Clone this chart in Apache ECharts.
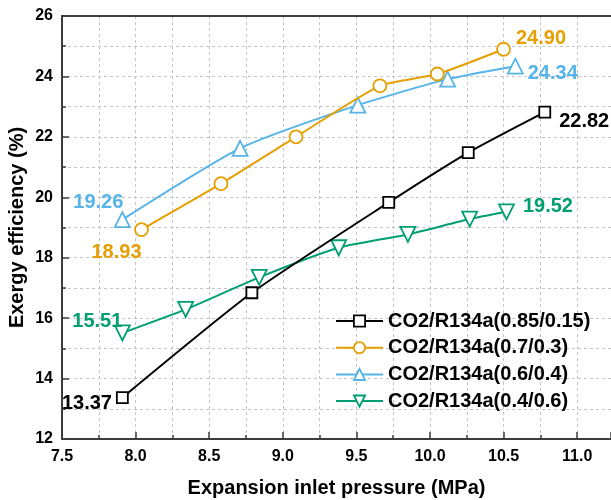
<!DOCTYPE html>
<html>
<head>
<meta charset="utf-8">
<script src="https://cdn.jsdelivr.net/npm/echarts@6/dist/echarts.min.js"></script>
<style>
html,body{margin:0;padding:0;background:#fff;}
#chart{width:611px;height:500px;}
</style>
</head>
<body>
<div id="chart"></div>
<script>
// ---- data ----
const seriesNames = ['CO2/R134a(0.85/0.15)', 'CO2/R134a(0.7/0.3)', 'CO2/R134a(0.6/0.4)', 'CO2/R134a(0.4/0.6)'];
const pressA = [7.91, 8.79, 9.72, 10.26, 10.78];
const effA   = [13.37, 16.84, 19.83, 21.48, 22.82];
const pressB = [8.04, 8.58, 9.09, 9.66, 10.05, 10.50];
const effB   = [18.93, 20.45, 22.00, 23.69, 24.08, 24.90];
const pressC = [7.91, 8.71, 9.51, 10.12, 10.58];
const effC   = [19.26, 21.62, 23.05, 23.91, 24.34];
const pressD = [7.91, 8.34, 8.84, 9.38, 9.85, 10.27, 10.52];
const effD   = [15.51, 16.29, 17.35, 18.33, 18.77, 19.28, 19.52];
const xTitle = 'Expansion inlet pressure (MPa)';
const yTitle = 'Exergy efficiency (%)';

// ---- styling ----
const colors = ['#000000', '#E69F00', '#56B4E9', '#009E73'];
const FONT = '"Liberation Sans", Arial, sans-serif';
const AXIS_COLOR = '#3c3c3c';
const X_MIN = 7.5, X_MAX = 11.23;

function build(px, py, firstLbl, lastLbl) {
  return px.map((x, i) => {
    const item = { value: [x, py[i]] };
    if (i === 0) item.label = Object.assign({ show: true }, firstLbl);
    if (i === px.length - 1) item.label = Object.assign({ show: true }, lastLbl);
    return item;
  });
}

const defs = [
  { x: pressA, y: effA, symbol: 'rect', size: 11, rot: 0,
    first: { position: 'left', offset: [1, 6] }, last: { position: 'right', offset: [3, 9] } },
  { x: pressB, y: effB, symbol: 'circle', size: 13, rot: 0,
    first: { position: 'bottom', offset: [-25, 0] }, last: { position: 'right', offset: [0, -11] } },
  { x: pressC, y: effC, symbol: 'triangle', size: 15, rot: 0,
    first: { position: 'top', offset: [-24, 6] }, last: { position: 'right', offset: [-1, 7] } },
  { x: pressD, y: effD, symbol: 'triangle', size: 15, rot: 180,
    first: { position: 'top', offset: [-25, 12] }, last: { position: 'right', offset: [3, -5] } }
];

const series = defs.map((d, k) => ({
  name: seriesNames[k],
  type: 'line',
  xAxisIndex: 0,
  data: build(d.x, d.y, d.first, d.last),
  smooth: 0.2,
  symbol: d.symbol,
  symbolSize: d.size,
  symbolRotate: d.rot,
  showAllSymbol: true,
  lineStyle: { color: colors[k], width: 2 },
  itemStyle: { color: '#fff', borderColor: colors[k], borderWidth: 1.8 },
  label: {
    show: false,
    color: colors[k],
    fontFamily: FONT,
    fontWeight: 'bold',
    fontSize: 20,
    formatter: p => p.value[1].toFixed(2)
  },
  emphasis: { disabled: true },
  z: 10 - k
}));

const gridLine = { show: true, lineStyle: { color: '#c4c4c4', type: [3, 3], width: 1 } };

const chart = echarts.init(document.getElementById('chart'), null, { renderer: 'canvas' });
chart.setOption({
  animation: false,
  backgroundColor: '#fff',
  grid: { left: 62, top: 16, bottom: 61, right: 0, show: false, containLabel: false, outerBoundsMode: 'none' },
  legend: {
    orient: 'vertical',
    left: 335, top: 311, padding: 0,
    itemWidth: 47, itemHeight: 14, itemGap: 6.7,
    textStyle: { fontFamily: FONT, fontWeight: 'bold', fontSize: 20, color: '#000' },
    data: seriesNames.map((n, k) => ({
      name: n,
      itemStyle: { color: '#fff', borderColor: colors[k], borderWidth: 1.8 }
    }))
  },
  xAxis: [{
    type: 'value', min: X_MIN, max: X_MAX, interval: 0.5,
    name: xTitle, nameLocation: 'middle', nameGap: 39, nameMoveOverlap: false,
    nameTextStyle: { fontFamily: FONT, fontWeight: 'bold', fontSize: 20, color: '#000' },
    axisLine: { show: true, lineStyle: { color: AXIS_COLOR, width: 2 } },
    axisTick: { show: true, inside: true, length: 7, lineStyle: { color: AXIS_COLOR, width: 1.5 } },
    minorTick: { show: true, splitNumber: 2, length: 4, lineStyle: { color: AXIS_COLOR, width: 1.5 } },
    splitLine: gridLine,
    minorSplitLine: gridLine,
    axisLabel: {
      fontFamily: FONT, fontWeight: 'bold', fontSize: 16, color: '#000', margin: 10,
      formatter: v => (v > 11.01 ? '' : v.toFixed(1))
    }
  }, {
    type: 'value', position: 'top', min: X_MIN, max: X_MAX,
    axisLine: { show: true, lineStyle: { color: AXIS_COLOR, width: 2 } },
    axisTick: { show: false }, axisLabel: { show: false }, splitLine: { show: false }
  }],
  yAxis: {
    type: 'value', min: 12, max: 26, interval: 2,
    name: yTitle, nameLocation: 'middle', nameGap: 35, nameMoveOverlap: false,
    nameTextStyle: { fontFamily: FONT, fontWeight: 'bold', fontSize: 20, color: '#000' },
    axisLine: { show: true, lineStyle: { color: AXIS_COLOR, width: 2 } },
    axisTick: { show: true, inside: true, length: 7, lineStyle: { color: AXIS_COLOR, width: 1.5 } },
    minorTick: { show: true, splitNumber: 2, length: 4, lineStyle: { color: AXIS_COLOR, width: 1.5 } },
    splitLine: gridLine,
    minorSplitLine: gridLine,
    axisLabel: { fontFamily: FONT, fontWeight: 'bold', fontSize: 16, color: '#000', margin: 9 }
  },
  series: series
});
</script>
</body>
</html>
